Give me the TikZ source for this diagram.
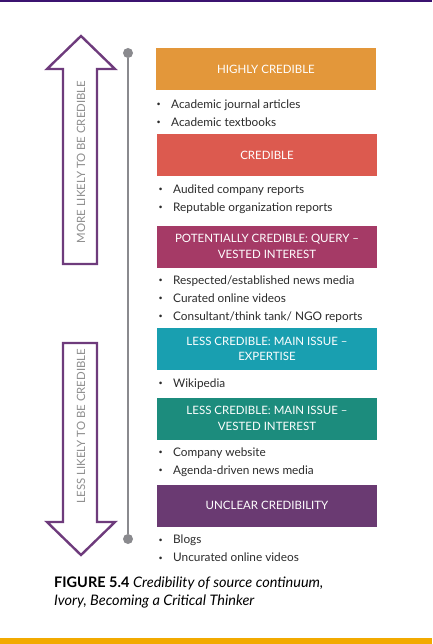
\documentclass[tikz,border=0pt]{standalone}
\usepackage{fontspec}
\setmainfont{Lato}
\usetikzlibrary{positioning}
\usepackage{xcolor}
\definecolor{Ink}{HTML}{2B2B2B}
\definecolor{Dim}{HTML}{8E8E8E}
\definecolor{Rail}{HTML}{8A8A8E}
\definecolor{Plum}{HTML}{6E3B7C}
\definecolor{TopRule}{HTML}{3B1370}
\definecolor{BottomBar}{HTML}{F2AA00}
\definecolor{HighC}{HTML}{E3973A}
\definecolor{CredC}{HTML}{DC5A4F}
\definecolor{QueryC}{HTML}{A53A66}
\definecolor{ExpertC}{HTML}{199FB0}
\definecolor{VestedC}{HTML}{1C8C7D}
\definecolor{UnclearC}{HTML}{6A3A72}
\newcommand{\itm}{\makebox[16pt][l]{\hspace{1.5pt}\raisebox{0.3ex}{\scalebox{0.6}{\textbullet}}}}

\begin{document}
\begin{tikzpicture}[x=1pt, y=-1pt,
    level/.style={rectangle, minimum width=220pt, minimum height=42pt, inner sep=2pt, align=center, text=white, font=\fontsize{11.5}{15.5}\selectfont},
    items/.style={anchor=west, align=left, text=Ink, inner sep=0pt, font=\fontsize{11.8}{18}\selectfont},
    bigarrow/.style={draw=Plum, line width=2.4pt, fill=white, line join=miter},
    dir/.style={rotate=90, text=Dim, font=\fontsize{11.4}{13}\selectfont},
    dot/.style={circle, fill=Rail, inner sep=0pt, minimum size=10pt},
    rail/.style={draw=Rail, line width=2pt},
    caption/.style={anchor=north west, align=left, text=black, inner sep=0pt, font=\fontsize{14.5}{18}\selectfont}
]
\useasboundingbox (0,0) rectangle (432,644);

% Page rules
\fill[TopRule] (0,0) rectangle (432,2);
\fill[BottomBar] (0,638) rectangle (432,644);

% Direction arrows
\draw[bigarrow] (63,264) -- (63,69) -- (47,69) -- (81,36) -- (115,69) -- (97,69) -- (97,264) -- cycle;
\draw[bigarrow] (63,343) -- (63,522) -- (47,522) -- (81,555) -- (115,522) -- (97,522) -- (97,343) -- cycle;
\node[dir] (more) at (81,162) {MORE LIKELY TO BE CREDIBLE};
\node[dir] (less) at (81,426) {LESS LIKELY TO BE CREDIBLE};

% Continuum rail
\node[dot] (top) at (128,53) {};
\node[dot] (bottom) at (128,539) {};
\draw[rail] (top) -- (bottom);

% Credibility levels
\node[level, fill=HighC] (high) at (266,69) {HIGHLY CREDIBLE};
\node[items] (highlist) at (155,113) {\itm Academic journal articles\\\itm Academic textbooks};

\node[level, fill=CredC] (cred) at (267,155.5) {CREDIBLE};
\node[items] (credlist) at (157,199) {\itm Audited company reports\\\itm Reputable organization reports};

\node[level, fill=QueryC] (query) at (267,246.5) {POTENTIALLY CREDIBLE: QUERY --\\VESTED INTEREST};
\node[items] (querylist) at (157,299) {\itm Respected/established news media\\\itm Curated online videos\\\itm Consultant/think tank/ NGO reports};

\node[level, fill=ExpertC] (expert) at (267,349) {LESS CREDIBLE: MAIN ISSUE --\\EXPERTISE};
\node[items] (expertlist) at (157,384) {\itm Wikipedia};

\node[level, fill=VestedC] (vested) at (267,418.5) {LESS CREDIBLE: MAIN ISSUE --\\VESTED INTEREST};
\node[items] (vestedlist) at (157,462.5) {\itm Company website\\\itm Agenda-driven news media};

\node[level, fill=UnclearC] (unclear) at (267,505.5) {UNCLEAR CREDIBILITY};
\node[items] (unclearlist) at (157,548.5) {\itm Blogs\\\itm Uncurated online videos};

% Caption
\node[caption] (cap) at (54,577) {\textbf{FIGURE 5.4} \textit{Credibility of source continuum,}\\\textit{Ivory, Becoming a Critical Thinker}};
\end{tikzpicture}
\end{document}
